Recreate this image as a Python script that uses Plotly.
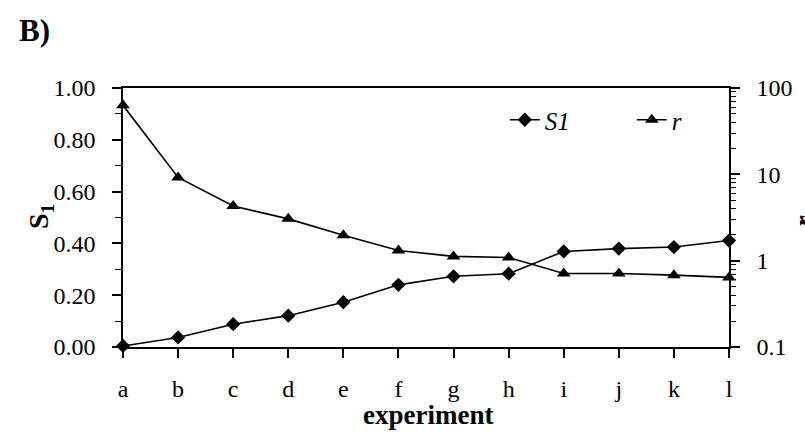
import plotly.graph_objects as go

# experiment labels and the two measured series
experiments = ["a", "b", "c", "d", "e", "f", "g", "h", "i", "j", "k", "l"]
s1_values = [0.004, 0.037, 0.088, 0.121, 0.173, 0.240, 0.273, 0.283, 0.369, 0.380, 0.386, 0.411]
r_values = [63.0, 9.2, 4.3, 3.05, 1.97, 1.31, 1.12, 1.09, 0.71, 0.71, 0.68, 0.64]

left_ticks = [0.0, 0.2, 0.4, 0.6, 0.8, 1.0]
right_ticks = [0.1, 1, 10, 100]
right_ticktext = ["0.1", "1", "10", "100"]
right_minor = [m * d for d in (0.1, 1, 10) for m in range(2, 10)]

FONT = "Liberation Serif, Times New Roman, serif"
x_pos = list(range(len(experiments)))

fig = go.Figure()
fig.add_trace(go.Scatter(
    x=x_pos, y=s1_values, name="<i>S1</i>", mode="lines+markers",
    line=dict(color="black", width=1.6),
    marker=dict(symbol="diamond", size=11, color="black"),
    cliponaxis=False, yaxis="y",
))
fig.add_trace(go.Scatter(
    x=x_pos, y=r_values, name="<i>r</i>", mode="lines+markers",
    line=dict(color="black", width=1.6),
    marker=dict(symbol="triangle-up", size=12, color="black"),
    cliponaxis=False, yaxis="y2",
))

fig.update_layout(
    width=805, height=433,
    margin=dict(l=123, r=76, t=88, b=86),
    paper_bgcolor="white", plot_bgcolor="white",
    font=dict(family=FONT, size=24, color="black"),
    showlegend=True,
    legend=dict(
        orientation="h", x=0.63, y=(347 - 120) / 259, xanchor="left", yanchor="middle",
        bgcolor="rgba(0,0,0,0)", font=dict(family=FONT, size=25),
        itemwidth=30, entrywidth=82, entrywidthmode="pixels",
    ),
    xaxis=dict(
        range=[0, len(experiments) - 1], tickvals=x_pos, ticktext=experiments,
        showgrid=False, zeroline=False, showline=True, mirror=True,
        linecolor="black", linewidth=1.6,
        ticks="outside", ticklen=9, tickwidth=1.5, tickcolor="black",
        ticklabelstandoff=10, tickfont=dict(family=FONT, size=24),
    ),
    yaxis=dict(
        range=[0, 1], tickvals=left_ticks, tickformat=".2f",
        showgrid=False, zeroline=False, showline=True,
        linecolor="black", linewidth=1.6,
        ticks="outside", ticklen=9, tickwidth=1.5, tickcolor="black",
        ticklabelstandoff=12, tickfont=dict(family=FONT, size=24),
        minor=dict(dtick=0.1, ticks="outside", ticklen=6, tickwidth=1.2, tickcolor="black", showgrid=False),
    ),
    yaxis2=dict(
        type="log", range=[-1, 2], overlaying="y", side="right",
        tickvals=right_ticks, ticktext=right_ticktext,
        showgrid=False, zeroline=False, showline=True,
        linecolor="black", linewidth=1.6,
        ticks="outside", ticklen=9, tickwidth=1.5, tickcolor="black",
        ticklabelstandoff=12, tickfont=dict(family=FONT, size=24),
        minor=dict(tickvals=right_minor, ticks="outside", ticklen=5, tickwidth=1.2, tickcolor="black", showgrid=False),
    ),
    annotations=[
        dict(text="<b>B)</b>", xref="paper", yref="paper",
             x=-106 / 606, y=(347 - 30) / 259, xanchor="left", yanchor="middle",
             showarrow=False, font=dict(family=FONT, size=31)),
        dict(text="<b>experiment</b>", xref="paper", yref="paper",
             x=0.504, y=(347 - 415) / 259, xanchor="center", yanchor="middle",
             showarrow=False, font=dict(family=FONT, size=27)),
        dict(text="<b>S<sub>1</sub></b>", xref="paper", yref="paper",
             x=(40 - 123) / 606, y=(347 - 217) / 259, xanchor="center", yanchor="middle",
             textangle=-90, showarrow=False, font=dict(family=FONT, size=28)),
        dict(text="<b><i>r</i></b>", xref="paper", yref="paper",
             x=(785 - 123) / 606, y=(347 - 221) / 259, xanchor="left", yanchor="middle",
             textangle=-90, showarrow=False, font=dict(family=FONT, size=28)),
    ],
)

fig.write_html("out.html")
